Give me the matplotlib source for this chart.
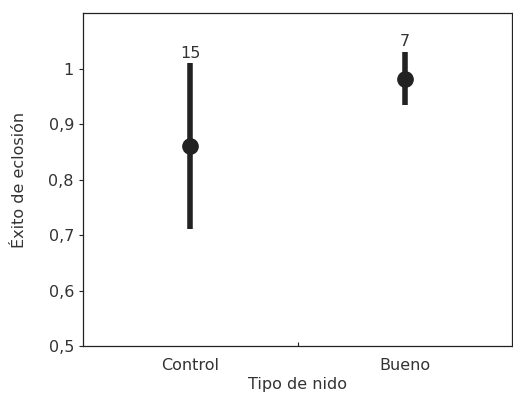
import matplotlib
matplotlib.use('Agg')
from matplotlib import pyplot as plt
import numpy

# Data
categories = ['Control', 'Bueno']
means = [0.861, 0.982]
upper = [1.010, 1.031]
lower = [0.711, 0.935]
counts = ['15', '7']

ink = '#222222'
text_col = '#333333'
plt.rcParams['font.family'] = ['DejaVu Sans']
plt.rcParams['font.size'] = 11.5

fig = plt.figure(figsize=(5.13, 3.95), dpi=100)
ax = fig.add_axes([83 / 513, 49 / 395, 429 / 513, 333 / 395])

x = numpy.arange(len(categories))
means_arr = numpy.array(means)
yerr = [means_arr - numpy.array(lower), numpy.array(upper) - means_arr]
ax.errorbar(x, means, yerr=yerr, fmt='o', color=ink, ecolor=ink,
            elinewidth=4, markersize=11, capsize=0)
for xi, top, label in zip(x, upper, counts):
    ax.annotate(label, (xi, top), xytext=(0, 2), textcoords='offset points',
                ha='center', va='bottom', color=text_col)

ax.set_xlim(-0.5, 1.5)
ax.set_ylim(0.5, 1.101)
ax.set_yticks([0.5, 0.6, 0.7, 0.8, 0.9, 1.0])
ax.set_yticklabels(['0,5', '0,6', '0,7', '0,8', '0,9', '1'])
ax.set_xticks([0.5])
ax.set_xticklabels([''])
ax.tick_params(axis='x', direction='in', length=3, color=ink)
ax.tick_params(axis='y', direction='out', length=3, color=ink,
               labelcolor=text_col)
for xi, name in zip(x, categories):
    ax.text(xi, -20 / 333, name, transform=ax.get_xaxis_transform(),
            ha='center', va='center', color=text_col)
ax.set_xlabel('Tipo de nido', color=text_col)
ax.xaxis.set_label_coords(0.5, -39 / 333)
ax.xaxis.label.set_va('center')
ax.set_ylabel('Éxito de eclosión', color=text_col)
ax.yaxis.set_label_coords(-63 / 429, 0.5)
ax.yaxis.label.set_va('center')
for spine in ax.spines.values():
    spine.set_color(ink)
    spine.set_linewidth(0.9)

plt.savefig('out.png', dpi=100)
